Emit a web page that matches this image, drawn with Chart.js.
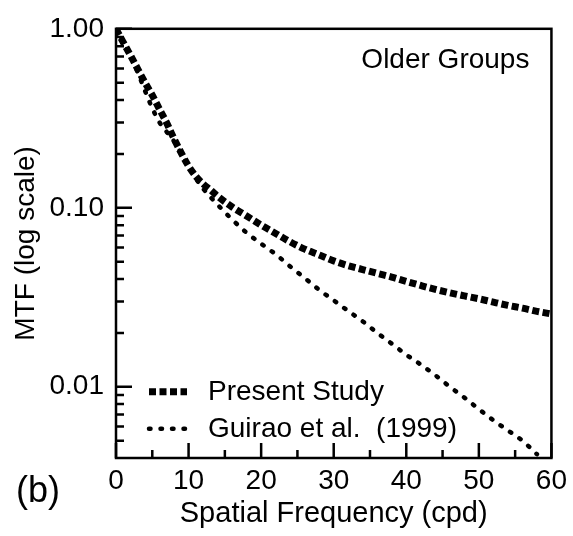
<!DOCTYPE html>
<html>
<head>
<meta charset="utf-8">
<script src="https://cdn.jsdelivr.net/npm/chart.js@4.4.1/dist/chart.umd.min.js"></script>
<style>
  html, body { margin: 0; padding: 0; background: #fff; }
  #wrap { width: 573px; height: 536px; }
</style>
</head>
<body>
<div id="wrap"><canvas id="mtfChart" width="573" height="536"></canvas></div>
<script>
// ---- data ----
const freqs = [0,1,2,3,4,5,6,7,8,9,10,11,12,13,14,16,18,20,22,24,26,28,30,32,34,36,38,40,42,44,46,48,50,52,54,56,58,60];
const presentStudy = [1.0,0.84,0.71,0.595,0.50,0.425,0.355,0.297,0.243,0.202,0.171,0.150,0.136,0.126,0.116,
  0.101,0.090,0.080,0.0718,0.0645,0.0588,0.0545,0.0505,0.0475,0.0452,0.043,0.041,0.0388,0.0368,0.035,
  0.0335,0.0322,0.031,0.0297,0.0285,0.0275,0.0264,0.0255];

const guiraoFreqs = [0,1,2,3,4,5,6,7,8,9,10,11,12,13,14,16,18,20,22,24,26,28,30,32,34,36,38,40,42,44,46,48,50,52,54,56,58];
const guiraoMtf = [1.0,0.84,0.70,0.57,0.45,0.36,0.30,0.265,0.235,0.20,0.17,0.146,0.128,0.115,0.104,
  0.086,0.0725,0.063,0.055,0.047,0.0405,0.0348,0.0304,0.0265,0.0232,0.0200,0.0174,0.0151,0.0133,0.0116,
  0.0100,0.0087,0.0075,0.0065,0.0057,0.0050,0.0042];

const xTickValues = [0,10,20,30,40,50,60];
const xMinorTicks = [5,15,25,35,45,55];
const yTickValues = [0.01,0.1,1];
const yMinorTicks = [0.005,0.006,0.007,0.008,0.009,0.02,0.03,0.04,0.05,0.06,0.07,0.08,0.09,
  0.2,0.3,0.4,0.5,0.6,0.7,0.8,0.9];

const seriesNames = ['Present Study', 'Guirao et al.  (1999)'];

const FONT = "'Liberation Sans', Arial, Helvetica, sans-serif";
const FS = 28;

// box + inward tick marks, legend and annotations
const framePlugin = {
  id: 'frame',
  afterDraw(chart) {
    const { ctx, chartArea: a, scales } = chart;
    const xs = scales.x, ys = scales.y;
    ctx.save();
    ctx.strokeStyle = '#000';
    ctx.lineWidth = 2.5;
    ctx.strokeRect(a.left, a.top, a.right - a.left, a.bottom - a.top);

    ctx.beginPath();
    xTickValues.forEach(v => {
      const px = xs.getPixelForValue(v);
      ctx.moveTo(px, a.bottom); ctx.lineTo(px, a.bottom - 15);
    });
    xMinorTicks.forEach(v => {
      const px = xs.getPixelForValue(v);
      ctx.moveTo(px, a.bottom); ctx.lineTo(px, a.bottom - 8);
    });
    yTickValues.forEach(v => {
      const py = ys.getPixelForValue(v);
      ctx.moveTo(a.left, py); ctx.lineTo(a.left + 16, py);
    });
    yMinorTicks.forEach(v => {
      const py = ys.getPixelForValue(v);
      ctx.moveTo(a.left, py); ctx.lineTo(a.left + 8, py);
    });
    ctx.stroke();

    // legend
    ctx.fillStyle = '#000';
    ctx.font = FS + 'px ' + FONT;
    ctx.textBaseline = 'middle';
    ctx.textAlign = 'left';
    chart.data.datasets.forEach((ds, i) => {
      const y = a.top + 363 + i * 37;
      ctx.beginPath();
      ctx.lineWidth = ds.borderWidth;
      ctx.lineCap = ds.borderCapStyle;
      ctx.setLineDash(ds.borderDash);
      ctx.moveTo(a.left + 33, y);
      ctx.lineTo(a.left + 71, y);
      ctx.stroke();
      ctx.setLineDash([]);
      ctx.fillText(ds.label, a.left + 92, y);
    });

    ctx.textBaseline = 'alphabetic';
    ctx.textAlign = 'right';
    ctx.fillText('Older Groups', a.right - 22, a.top + 39);

    ctx.textAlign = 'left';
    ctx.font = '36px ' + FONT;
    ctx.fillText('(b)', 16, 502);
    ctx.restore();
  }
};

new Chart(document.getElementById('mtfChart'), {
  type: 'line',
  data: {
    datasets: [
      {
        label: seriesNames[0],
        data: freqs.map((f, i) => ({ x: f, y: presentStudy[i] })),
        borderColor: '#000', borderWidth: 7, borderDash: [7, 3.5], borderCapStyle: 'butt',
        pointRadius: 0, cubicInterpolationMode: 'monotone', fill: false
      },
      {
        label: seriesNames[1],
        data: guiraoFreqs.map((f, i) => ({ x: f, y: guiraoMtf[i] })),
        borderColor: '#000', borderWidth: 4.5, borderDash: [1.5, 10], borderCapStyle: 'round',
        pointRadius: 0, cubicInterpolationMode: 'monotone', fill: false
      }
    ]
  },
  options: {
    responsive: false,
    animation: false,
    devicePixelRatio: 1,
    layout: { padding: { top: 21, right: 20, left: 0, bottom: 0 } },
    plugins: { legend: { display: false }, tooltip: { enabled: false } },
    scales: {
      x: {
        type: 'linear', min: 0, max: 60,
        afterBuildTicks: s => { s.ticks = xTickValues.map(v => ({ value: v })); },
        afterFit: s => { s.height = 78; },
        grid: { display: false, drawTicks: false },
        border: { display: false },
        ticks: { color: '#000', font: { family: FONT, size: FS }, padding: 6, maxRotation: 0 },
        title: { display: true, text: 'Spatial Frequency (cpd)', color: '#000',
                 font: { family: FONT, size: FS + 1 }, padding: { top: 0, bottom: 5 } }
      },
      y: {
        type: 'logarithmic', min: 0.004, max: 1,
        afterBuildTicks: s => { s.ticks = yTickValues.map(v => ({ value: v })); },
        afterFit: s => { s.width = 116; },
        grid: { display: false, drawTicks: false },
        border: { display: false },
        ticks: { color: '#000', font: { family: FONT, size: FS }, padding: 12,
                 callback: v => Number(v).toFixed(2) },
        title: { display: true, text: 'MTF (log scale)', color: '#000',
                 font: { family: FONT, size: FS }, padding: { top: 9, bottom: 0 } }
      }
    }
  },
  plugins: [framePlugin]
});
</script>
</body>
</html>
